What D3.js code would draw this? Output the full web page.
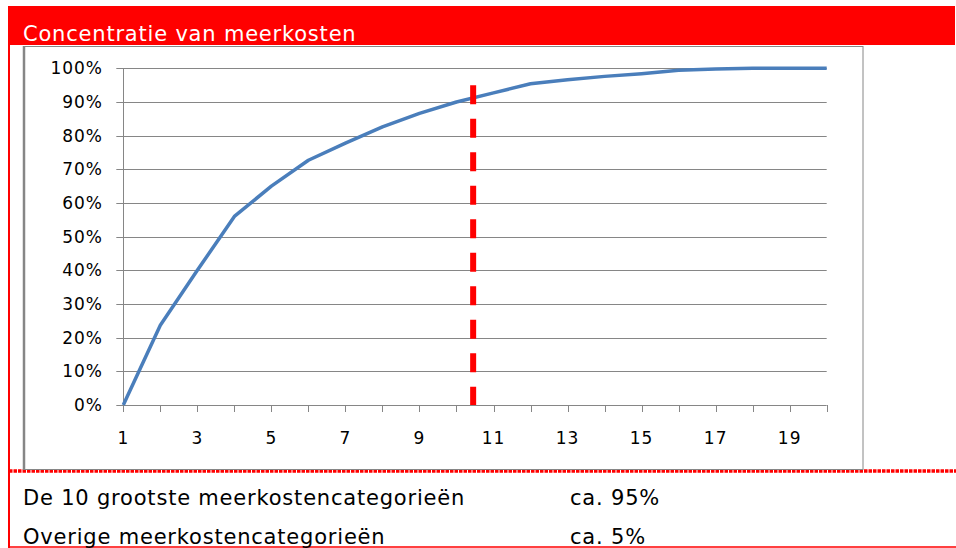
<!DOCTYPE html>
<html>
<head>
<meta charset="utf-8">
<script src="https://cdn.jsdelivr.net/npm/d3@7"></script>
<style>
    body { margin: 0; background: #fff; }
    svg { display: block; font-family: "DejaVu Sans", Verdana, sans-serif; }
</style>
</head>
<body>
<div id="chart"></div>
<script>
// categories (rank of cost category) and cumulative share
const categories = [1, 2, 3, 4, 5, 6, 7, 8, 9, 10, 11, 12, 13, 14, 15, 16, 17, 18, 19, 20];
const cumulativeShare = [0, 0.237, 0.40, 0.56, 0.65, 0.727, 0.778, 0.826, 0.866, 0.90, 0.927, 0.954, 0.966, 0.976, 0.984, 0.994, 0.998, 1.0, 1.0, 1.0];
const xTickLabels = [1, 3, 5, 7, 9, 11, 13, 15, 17, 19];
const yTicks = [0, 0.1, 0.2, 0.3, 0.4, 0.5, 0.6, 0.7, 0.8, 0.9, 1.0];
const cutoff = { x: 10.45, y: 0.95 };

const title = 'Concentratie van meerkosten';
const summaryLabels = ['De 10 grootste meerkostencategorieën', 'Overige meerkostencategorieën'];
const summaryValues = ['ca. 95%', 'ca. 5%'];

const W = 956, H = 548;
const red = '#ff0000';
const gray = '#868686';

const svg = d3.select('#chart')
    .append('svg')
    .attr('width', W)
    .attr('height', H);

// Header band
svg.append('rect')
    .attr('x', 8).attr('y', 6)
    .attr('width', 947).attr('height', 39)
    .attr('fill', red);

svg.append('text')
    .attr('x', 23).attr('y', 41)
    .attr('fill', '#fff')
    .style('font-size', '21px')
    .style('letter-spacing', '0.8px')
    .text(title);

// Red frame: left side, dotted separator, bottom line
svg.append('line')
    .attr('x1', 9).attr('x2', 9)
    .attr('y1', 45).attr('y2', H)
    .attr('stroke', red).attr('stroke-width', 2);

svg.append('line')
    .attr('x1', 9).attr('x2', W)
    .attr('y1', 471).attr('y2', 471)
    .attr('stroke', red).attr('stroke-width', 3.5)
    .attr('stroke-dasharray', '3.5,1');

svg.append('line')
    .attr('x1', 9).attr('x2', W)
    .attr('y1', 547).attr('y2', 547)
    .attr('stroke', red).attr('stroke-width', 1.5);

// Chart box
svg.append('rect')
    .attr('x', 24).attr('y', 46.5)
    .attr('width', 839).attr('height', 423)
    .attr('fill', '#fff')
    .attr('stroke', gray).attr('stroke-width', 1);
svg.append('line')
    .attr('x1', 24).attr('x2', 24)
    .attr('y1', 46).attr('y2', 470)
    .attr('stroke', gray).attr('stroke-width', 2.5);

// Plot
const x = d3.scaleLinear()
    .domain([1, 20])
    .range([123.3, 826.7]);

const y = d3.scaleLinear()
    .domain([0, 1])
    .range([405, 68.3]);

const plot = svg.append('g');

// Horizontal gridlines with left tick
plot.selectAll('.grid')
    .data(yTicks)
    .enter()
    .append('line')
    .attr('x1', x(1) - 7)
    .attr('x2', x(20))
    .attr('y1', d => Math.round(y(d)) + 0.5)
    .attr('y2', d => Math.round(y(d)) + 0.5)
    .attr('stroke', gray)
    .attr('stroke-width', 1);

// Y axis line
plot.append('line')
    .attr('x1', Math.round(x(1)) + 0.5).attr('x2', Math.round(x(1)) + 0.5)
    .attr('y1', y(1)).attr('y2', y(0))
    .attr('stroke', gray);

// Y labels
plot.selectAll('.ylab')
    .data(yTicks)
    .enter()
    .append('text')
    .attr('x', 103)
    .attr('y', d => y(d) + 6)
    .attr('text-anchor', 'end')
    .style('font-size', '17px')
    .style('letter-spacing', '1px')
    .attr('fill', '#000')
    .text(d => d3.format('.0%')(d));

// X ticks
plot.selectAll('.xtick')
    .data(categories)
    .enter()
    .append('line')
    .attr('x1', d => Math.round(x(d)) + 0.5)
    .attr('x2', d => Math.round(x(d)) + 0.5)
    .attr('y1', y(0))
    .attr('y2', y(0) + 7)
    .attr('stroke', gray);

// X labels
plot.selectAll('.xlab')
    .data(xTickLabels)
    .enter()
    .append('text')
    .attr('x', d => x(d))
    .attr('y', 444)
    .attr('text-anchor', 'middle')
    .style('font-size', '17px')
    .style('letter-spacing', '1px')
    .attr('fill', '#000')
    .text(d => d);

// Cumulative line
const line = d3.line()
    .x((d, i) => x(categories[i]))
    .y(d => y(d));

plot.append('path')
    .datum(cumulativeShare)
    .attr('d', line)
    .attr('fill', 'none')
    .attr('stroke', '#4a7ebb')
    .attr('stroke-width', 3.5)
    .attr('stroke-linejoin', 'round');

// Cutoff marker
plot.append('line')
    .attr('x1', x(cutoff.x)).attr('x2', x(cutoff.x))
    .attr('y1', y(cutoff.y)).attr('y2', y(0))
    .attr('stroke', red)
    .attr('stroke-width', 6)
    .attr('stroke-dasharray', '19,14.5');

// Summary rows
const rows = svg.append('g');
summaryLabels.forEach((label, i) => {
    rows.append('text')
        .attr('x', 23)
        .attr('y', 505 + i * 39)
        .style('font-size', '21px')
        .style('letter-spacing', '0.8px')
        .attr('fill', '#000')
        .text(label);
    rows.append('text')
        .attr('x', 570)
        .attr('y', 505 + i * 39)
        .style('font-size', '21px')
        .style('letter-spacing', '0.8px')
        .attr('fill', '#000')
        .text(summaryValues[i]);
});
</script>
</body>
</html>
